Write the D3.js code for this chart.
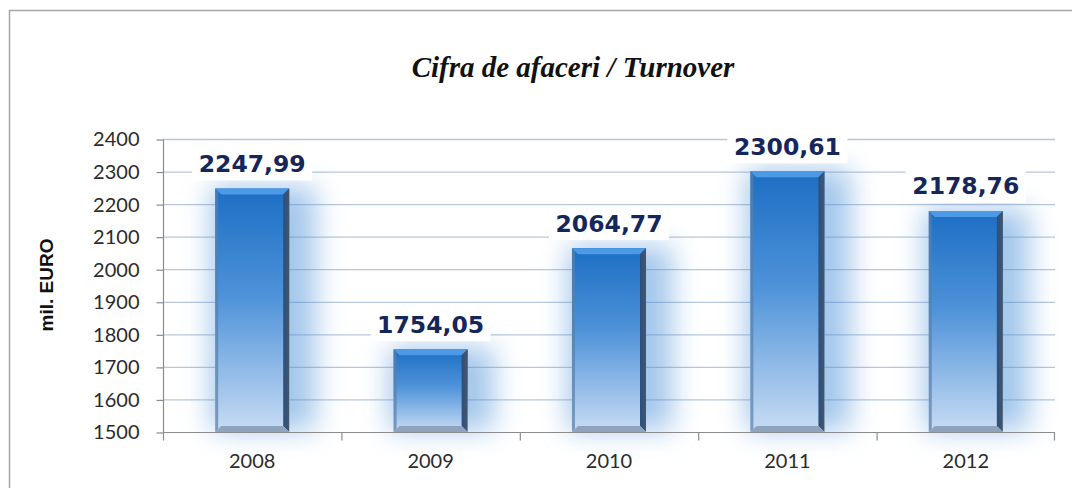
<!DOCTYPE html>
<html>
<head>
<meta charset="utf-8">
<script src="https://cdn.jsdelivr.net/npm/d3@7"></script>
<style>
  body { margin: 0; background: #fff; }
  svg { display: block; }
</style>
</head>
<body>
<svg id="canvas" width="1072" height="488"></svg>
<script>
var years = ['2008', '2009', '2010', '2011', '2012'];
var turnover = [2247.99, 1754.05, 2064.77, 2300.61, 2178.76];
var yTicks = [1500, 1600, 1700, 1800, 1900, 2000, 2100, 2200, 2300, 2400];
var titleText = 'Cifra de afaceri / Turnover';
var yLabel = 'mil. EURO';

var svg = d3.select('#canvas');
var plot = { left: 163, right: 1055, top: 139, bottom: 432 };

// outer frame
svg.append('path').attr('d', 'M9.5,488 L9.5,10.5 L1072,10.5')
  .style('fill', 'none').style('stroke', '#a6a6a6').style('stroke-width', 1.5);

var x = d3.scaleBand().domain(years).range([plot.left, plot.right]).paddingInner(0.585).paddingOuter(0.2925);
var xb = d3.scaleBand().domain(years).range([plot.left, plot.right]);
var y = d3.scaleLinear().domain([1500, 2400]).range([plot.bottom, plot.top]);

// defs
var defs = svg.append('defs');
var grad = defs.append('linearGradient').attr('id', 'barGrad').attr('x1', 0).attr('y1', 0).attr('x2', 0).attr('y2', 1);
grad.append('stop').attr('offset', '0%').attr('stop-color', '#1c6ec4');
grad.append('stop').attr('offset', '45%').attr('stop-color', '#4f93d9');
grad.append('stop').attr('offset', '100%').attr('stop-color', '#c9dcf4');
var side = defs.append('linearGradient').attr('id', 'sideGrad').attr('x1', 0).attr('y1', 0).attr('x2', 1).attr('y2', 0);
side.append('stop').attr('offset', '0%').attr('stop-color', '#2a4f80');
side.append('stop').attr('offset', '100%').attr('stop-color', '#45566b');
defs.append('filter').attr('id', 'glow').attr('x', '-100%').attr('y', '-50%').attr('width', '300%').attr('height', '200%')
  .append('feGaussianBlur').attr('stdDeviation', 14);

// gridlines
svg.append('g').selectAll('line').data(yTicks.slice(1)).join('line')
  .attr('x1', plot.left).attr('x2', plot.right)
  .attr('y1', d => y(d) + 0.5).attr('y2', d => y(d) + 0.5)
  .style('stroke', '#b9c7dc').style('stroke-width', 1.3);

// glow behind bars
svg.append('g').selectAll('rect').data(turnover).join('rect')
  .attr('x', (d, i) => x(years[i]) - 4)
  .attr('y', d => y(d) - 2)
  .attr('width', x.bandwidth() + 30)
  .attr('height', d => plot.bottom - y(d))
  .style('fill', '#4a8fd8').style('opacity', 0.5)
  .attr('filter', 'url(#glow)');

// bars
var bars = svg.append('g').selectAll('g').data(turnover).join('g');
var bev = 6;
bars.append('rect')
  .attr('x', (d, i) => x(years[i]))
  .attr('y', d => y(d))
  .attr('width', x.bandwidth())
  .attr('height', d => plot.bottom - y(d))
  .style('fill', 'url(#barGrad)');
// top bevel
bars.append('path')
  .attr('d', (d, i) => {
    var x0 = x(years[i]), x1 = x0 + x.bandwidth(), t = y(d);
    return 'M' + x0 + ',' + t + 'L' + x1 + ',' + t + 'L' + (x1 - bev) + ',' + (t + bev) + 'L' + (x0 + bev) + ',' + (t + bev) + 'Z';
  })
  .style('fill', '#4c9ae6');
// right side shadow
bars.append('path')
  .attr('d', (d, i) => {
    var x1 = x(years[i]) + x.bandwidth(), t = y(d), b = plot.bottom;
    return 'M' + x1 + ',' + t + 'L' + x1 + ',' + b + 'L' + (x1 - bev) + ',' + (b - bev) + 'L' + (x1 - bev) + ',' + (t + bev) + 'Z';
  })
  .style('fill', 'url(#sideGrad)');
// left edge
bars.append('path')
  .attr('d', (d, i) => {
    var x0 = x(years[i]), t = y(d), b = plot.bottom;
    return 'M' + x0 + ',' + t + 'L' + (x0 + 3) + ',' + (t + 3) + 'L' + (x0 + 3) + ',' + (b - 3) + 'L' + x0 + ',' + b + 'Z';
  })
  .style('fill', '#5a7fa8').style('opacity', 0.7);
// bottom bevel
bars.append('path')
  .attr('d', (d, i) => {
    var x0 = x(years[i]), x1 = x0 + x.bandwidth(), b = plot.bottom;
    return 'M' + x0 + ',' + b + 'L' + x1 + ',' + b + 'L' + (x1 - bev) + ',' + (b - bev) + 'L' + (x0 + bev) + ',' + (b - bev) + 'Z';
  })
  .style('fill', '#8fa3bd');

// axes
var yAxis = svg.append('g').attr('transform', 'translate(' + (plot.left + 0.5) + ',0.5)')
  .call(d3.axisLeft(y).tickValues(yTicks).tickSize(7).tickFormat(d3.format('d')));
yAxis.select('.domain').attr('d', 'M0,' + plot.top + 'V' + plot.bottom);
var xAxis = svg.append('g').attr('transform', 'translate(0,' + (plot.bottom + 0.5) + ')')
  .call(d3.axisBottom(xb).tickSize(0).tickPadding(21));
xAxis.select('.domain').attr('d', 'M' + plot.left + ',0H' + plot.right);
xAxis.selectAll('.bnd').data(years.concat(['end'])).join('line').attr('class', 'bnd')
  .attr('x1', (d, i) => i < years.length ? xb(d) + 0.5 : plot.right - 0.5)
  .attr('x2', (d, i) => i < years.length ? xb(d) + 0.5 : plot.right - 0.5)
  .attr('y1', 0).attr('y2', 8);
svg.selectAll('.domain, .tick line, .bnd').style('stroke', '#8c8c8c').style('stroke-width', 1.2);
svg.selectAll('.tick text').style('font-family', 'Lato, "Open Sans", sans-serif').style('font-size', '20px').style('fill', '#2b2b2b');
yAxis.selectAll('.tick text').attr('x', -24);

// value labels
var fmt = d => d.toFixed(2).replace('.', ',');
var labels = svg.append('g').selectAll('g').data(turnover).join('g')
  .attr('transform', (d, i) => 'translate(' + (x(years[i]) + x.bandwidth() / 2) + ',' + (y(d) - 25) + ')');
labels.append('rect').attr('x', -60).attr('y', -17).attr('width', 120).attr('height', 34).style('fill', '#fff');
labels.append('text').attr('text-anchor', 'middle').attr('dy', '0.36em')
  .style('font-family', '"DejaVu Sans", Verdana, sans-serif').style('font-weight', 'bold')
  .style('font-size', '23.5px').style('fill', '#14265a')
  .text(fmt);

// title
svg.append('text').attr('x', 573).attr('y', 77).attr('text-anchor', 'middle')
  .style('font-family', '"Liberation Serif", "Times New Roman", serif').style('font-style', 'italic').style('font-weight', 'bold')
  .style('font-size', '29px').style('fill', '#111').text(titleText);

// y label
svg.append('text').attr('transform', 'translate(53,285) rotate(-90)').attr('text-anchor', 'middle')
  .style('font-family', '"Liberation Sans", Arial, sans-serif').style('font-weight', 'bold')
  .style('font-size', '19px').style('fill', '#111').text(yLabel);
</script>
</body>
</html>
